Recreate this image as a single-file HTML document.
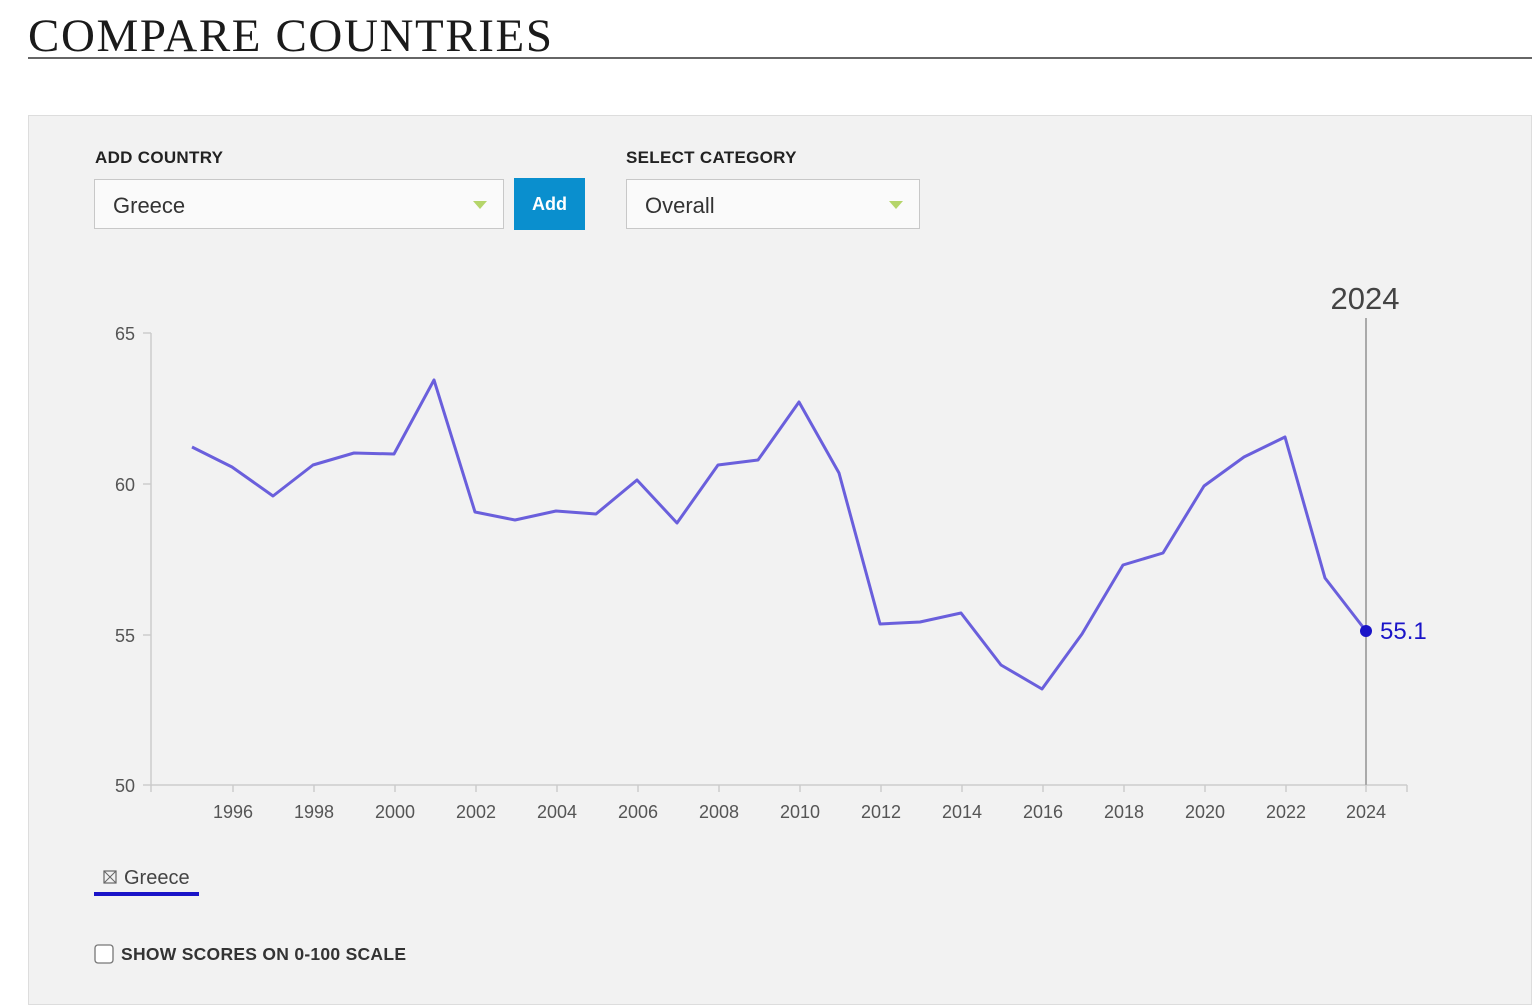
<!DOCTYPE html>
<html><head><style>
body{margin:0;width:1536px;height:1006px;background:#fff;position:relative;overflow:hidden;font-family:"Liberation Sans",sans-serif}
.t{position:absolute;left:28px;top:8px;font-family:"Liberation Serif",serif;font-size:47px;letter-spacing:1.6px;color:#1a1a1a;line-height:56px}
.rule{position:absolute;left:28px;top:57px;width:1504px;height:2px;background:#666}
.panel{position:absolute;left:28px;top:115px;width:1502px;height:888px;background:#f2f2f2;border:1px solid #ddd}
.lab{position:absolute;font-size:17px;font-weight:bold;color:#222;letter-spacing:.3px}
.sel{position:absolute;height:50px;background:#fafafa;border:1px solid #c8c8c8;box-sizing:border-box;font-size:22px;color:#333;line-height:52px;padding-left:18px}
.arr{position:absolute;right:16px;top:21px;width:0;height:0;border-left:7px solid transparent;border-right:7px solid transparent;border-top:8px solid #b5d56a}
.btn{position:absolute;left:514px;top:178px;width:71px;height:52px;background:#0a8fce;color:#fff;font-weight:bold;font-size:18px;text-align:center;line-height:52px}
</style></head><body>
<div class="t">COMPARE COUNTRIES</div>
<div class="rule"></div>
<div class="panel"></div>
<div class="lab" style="left:95px;top:148px">ADD COUNTRY</div>
<div class="lab" style="left:626px;top:148px">SELECT CATEGORY</div>
<div class="sel" style="left:94px;top:179px;width:410px">Greece<div class="arr"></div></div>
<div class="btn">Add</div>
<div class="sel" style="left:626px;top:179px;width:294px">Overall<div class="arr"></div></div>
<svg width="1536" height="1006" style="position:absolute;left:0;top:0">
<g stroke="#ccc" stroke-width="1.5" fill="none">
<line x1="151" y1="333" x2="151" y2="786"/>
<line x1="151" y1="785" x2="1407" y2="785"/>
<line x1="143" y1="333" x2="151" y2="333"/><line x1="143" y1="484" x2="151" y2="484"/><line x1="143" y1="635" x2="151" y2="635"/><line x1="143" y1="785" x2="151" y2="785"/>
<path d="M151 785v7M233 785v7M314 785v7M395 785v7M476 785v7M557 785v7M638 785v7M719 785v7M800 785v7M881 785v7M962 785v7M1043 785v7M1124 785v7M1205 785v7M1286 785v7M1366 785v7M1407 785v7"/>
</g>
<line x1="1366" y1="318" x2="1366" y2="785" stroke="#aaa" stroke-width="2"/>
<g font-size="18" fill="#555" font-family="Liberation Sans,sans-serif">
<text x="135" y="340" text-anchor="end">65</text><text x="135" y="491" text-anchor="end">60</text><text x="135" y="642" text-anchor="end">55</text><text x="135" y="792" text-anchor="end">50</text>
<g text-anchor="middle"><text x="233" y="818">1996</text><text x="314" y="818">1998</text><text x="395" y="818">2000</text><text x="476" y="818">2002</text><text x="557" y="818">2004</text><text x="638" y="818">2006</text><text x="719" y="818">2008</text><text x="800" y="818">2010</text><text x="881" y="818">2012</text><text x="962" y="818">2014</text><text x="1043" y="818">2016</text><text x="1124" y="818">2018</text><text x="1205" y="818">2020</text><text x="1286" y="818">2022</text><text x="1366" y="818">2024</text></g>
</g>
<text x="1365" y="309" text-anchor="middle" font-size="31" fill="#444">2024</text>
<polyline fill="none" stroke="#6a5fdc" stroke-width="3" stroke-linejoin="round" points="192,447 232,467 273,496 313,465 354,453 394,454 434,380 475,512 515,520 556,511 596,514 637,480 677,523 718,465 758,460 799,402 839,473 880,624 920,622 961,613 1001,665 1042,689 1082,634 1123,565 1163,553 1204,486 1244,457 1285,437 1325,578 1366,631"/>
<circle cx="1366" cy="631" r="6" fill="#1a14c8"/>
<text x="1380" y="639" font-size="24" fill="#1a14c8">55.1</text>
<rect x="104" y="871" width="12" height="12" fill="none" stroke="#666" stroke-width="1.2"/>
<path d="M104 871l12 12M116 871l-12 12" stroke="#666" stroke-width="1"/>
<text x="124" y="884" font-size="20" fill="#444">Greece</text>
<rect x="94" y="892" width="105" height="4" fill="#1a14c8"/>
<rect x="95" y="945" width="18" height="18" rx="3" fill="#fff" stroke="#777" stroke-width="1.3"/>
<text x="121" y="960" font-size="17.5" font-weight="bold" fill="#333" textLength="285">SHOW SCORES ON 0-100 SCALE</text>
</svg>
</body></html>
